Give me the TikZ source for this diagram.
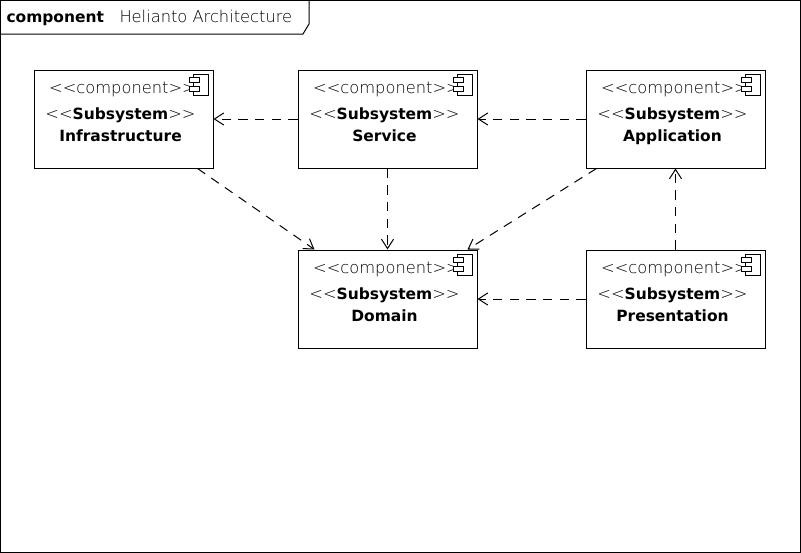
\documentclass[tikz,border=0pt]{standalone}
\usepackage{fontspec}
\setmainfont{DejaVu Sans}
\newfontfamily\lightfont{DejaVu Sans ExtraLight}
\usetikzlibrary{arrows.meta}
\begin{document}
\begin{tikzpicture}[x=0.75pt, y=-0.75pt, line width=0.75pt,
  >={Straight Barb[length=7pt, width=9pt]},
  block/.style={draw, minimum width=134.25pt, minimum height=73.5pt, inner sep=0pt},
  stereo/.style={font=\fontsize{12.2pt}{14pt}\lightfont, inner sep=0pt},
  blkname/.style={font=\fontsize{11.6pt}{14pt}\selectfont\bfseries, inner sep=0pt},
  dep/.style={->, dashed, dash pattern=on 7pt off 5.5pt}]

  \useasboundingbox (0,0) rectangle (801,553);

  % Frame
  \draw (0.5,0.5) rectangle (800,552);
  \draw (0.5,34) -- (303,34) -- (309,24) -- (309,0.5);
  \node[blkname, anchor=base west] (kind) at (6,22) {component};
  \node[stereo, anchor=base west] (title) at (119,22) {Helianto Architecture};

  % Blocks
  \node[block] (infra) at (123.5,119) {};
  \node[block] (service) at (387.5,119) {};
  \node[block] (application) at (675.5,119) {};
  \node[block] (domain) at (387.5,299) {};
  \node[block] (presentation) at (675.5,299) {};

  % Labels and icons
  \foreach \blk/\txt in {infra/Infrastructure, service/Service, application/Application, domain/Domain, presentation/Presentation} {
    \node[stereo, anchor=base, xshift=-0.75pt, yshift=-18pt] (\blk-c) at (\blk.north) {<{}<component>{}>};
    \node[stereo, anchor=base, xshift=-2.25pt, yshift=-37.5pt] (\blk-s) at (\blk.north) {<{}<{\fontsize{11.6pt}{14pt}\rmfamily\bfseries Subsystem}>{}>};
    \node[blkname, anchor=base, xshift=-2.25pt, yshift=-54pt] (\blk-n) at (\blk.north) {\txt};
    \begin{scope}[shift={(\blk.north east)}]
      \draw (-20,5) rectangle (-5,26);
      \draw[fill=white] (-24,8) rectangle (-14,13);
      \draw[fill=white] (-24,17) rectangle (-14,22);
    \end{scope}
  }

  % Dependencies
  \draw[dep] (service) -- (infra);
  \draw[dep] (application) -- (service);
  \draw[dep] (service) -- (domain);
  \draw[dep] (presentation) -- (domain);
  \draw[dep] (presentation) -- (application);
  \draw[dep] ([xshift=-12pt]infra.south east) -- ([xshift=12.75pt]domain.north west);
  \draw[dep] ([xshift=8.25pt]application.south west) -- ([xshift=-7.5pt]domain.north east);

\end{tikzpicture}
\end{document}
